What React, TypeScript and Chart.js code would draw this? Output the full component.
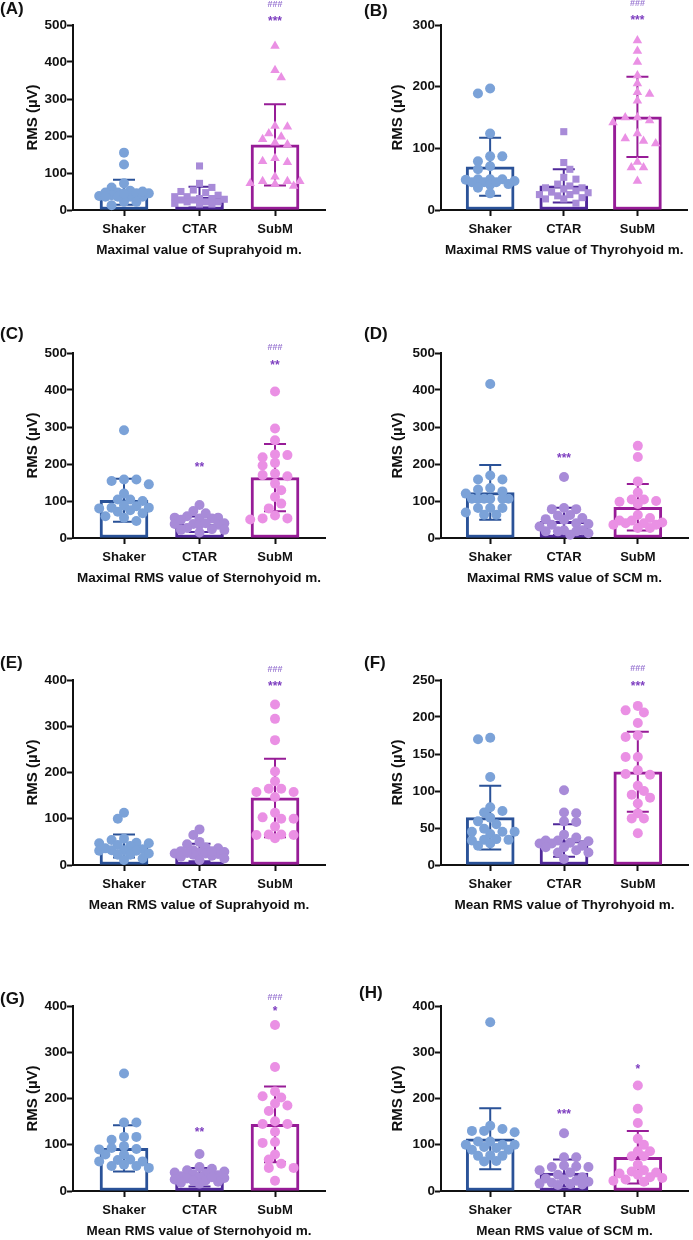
import React, { useEffect, useRef } from "react";
import Chart from "chart.js/auto";

const CATEGORIES = ["Shaker", "CTAR", "SubM"];
const BAR_COLORS = ["#2A5298", "#50299A", "#971C97"];
const POINT_COLORS = ["#7BA2D8", "#A88BD8", "#EA90E4"];
const NOTE_STAR = "#7E3FC0";
const NOTE_HASH = "#9A78D2";
const FONT = "'Liberation Sans', Arial, sans-serif";

// (A) Maximal value of Suprahyoid m.
const A_SHAKER = [155, 123, 72, 61, 47, 40, 36, 52, 38, 45, 47, 36, 22, 22, 13, 36, 45, 36, 45, 50];
const A_CTAR = [119, 72, 61, 54, 50, 40, 36, 47, 31, 27, 22, 22, 29, 27, 31, 22, 16, 16, 18, 36];
const A_SUBM = [443, 378, 358, 227, 225, 191, 207, 198, 182, 177, 129, 132, 140, 78, 78, 78, 70, 90, 72, 65];
const A_MEAN = [48, 35, 176];
const A_SD = [34, 28, 110];

// (B) Maximal RMS value of Thyrohyoid m.
const B_SHAKER = [189, 197, 124, 87, 87, 79, 66, 71, 50, 50, 47, 49, 45, 41, 42, 45, 45, 27, 50, 36];
const B_CTAR = [127, 77, 66, 53, 50, 42, 34, 36, 39, 36, 28, 18, 18, 20, 25, 11, 25, 31, 29, 23];
const B_SUBM = [275, 258, 240, 218, 205, 191, 188, 177, 150, 150, 142, 116, 124, 108, 112, 78, 69, 69, 47, 145];
const B_MEAN = [70, 39, 151];
const B_SD = [47, 27, 65];

// (C) Maximal RMS value of Sternohyoid m.
const C_SHAKER = [291, 154, 158, 158, 145, 120, 104, 104, 67, 88, 71, 75, 86, 82, 82, 80, 46, 55, 59, 100];
const C_CTAR = [89, 73, 53, 55, 59, 55, 53, 36, 38, 38, 40, 27, 24, 22, 36, 40, 15, 22, 49, 67];
const C_SUBM = [396, 296, 264, 218, 226, 224, 203, 196, 174, 167, 170, 147, 129, 111, 93, 80, 61, 50, 53, 53];
const C_MEAN = [102, 37, 163];
const C_SD = [58, 21, 91];

// (D) Maximal RMS value of SCM m.
const D_SHAKER = [416, 169, 158, 131, 158, 135, 106, 106, 106, 106, 106, 106, 120, 126, 81, 81, 81, 63, 63, 69];
const D_CTAR = [165, 78, 81, 78, 62, 60, 51, 49, 54, 36, 40, 38, 21, 18, 21, 18, 18, 9, 13, 31];
const D_SUBM = [249, 219, 153, 123, 104, 104, 100, 92, 98, 62, 54, 40, 40, 47, 47, 36, 36, 42, 27, 27];
const D_MEAN = [123, 45, 83];
const D_SD = [74, 37, 63];

// (E) Mean RMS value of Suprahyoid m.
const E_SHAKER = [113, 100, 47, 48, 47, 41, 54, 57, 43, 31, 34, 32, 32, 31, 25, 22, 22, 11, 14, 36];
const E_CTAR = [77, 65, 50, 45, 38, 36, 32, 30, 25, 27, 25, 24, 22, 28, 14, 11, 18, 20, 26, 30];
const E_SUBM = [347, 316, 270, 202, 181, 165, 165, 158, 158, 147, 103, 100, 100, 113, 83, 65, 66, 65, 66, 58];
const E_MEAN = [41, 27, 145];
const E_SD = [25, 19, 85];

// (F) Mean RMS value of Thyrohyoid m.
const F_SHAKER = [170, 172, 119, 78, 73, 71, 64, 59, 55, 45, 45, 42, 49, 45, 34, 33, 34, 35, 26, 29];
const F_CTAR = [101, 71, 59, 70, 58, 41, 33, 32, 29, 33, 37, 26, 29, 24, 24, 17, 20, 17, 8, 30];
const F_SUBM = [215, 209, 206, 192, 175, 173, 146, 146, 123, 128, 122, 107, 100, 91, 95, 83, 70, 63, 63, 43];
const F_MEAN = [64, 33, 126];
const F_SD = [43, 22, 54];

// (G) Mean RMS value of Sternohyoid m.
const G_SHAKER = [254, 148, 148, 111, 117, 117, 97, 91, 90, 93, 64, 68, 79, 79, 64, 67, 54, 57, 54, 50];
const G_CTAR = [80, 52, 48, 45, 42, 40, 38, 36, 34, 32, 30, 28, 27, 25, 23, 22, 20, 18, 16, 30];
const G_SUBM = [359, 268, 215, 205, 202, 189, 185, 173, 145, 145, 151, 128, 104, 106, 79, 68, 59, 50, 50, 22];
const G_MEAN = [92, 30, 144];
const G_SD = [50, 20, 82];

// (H) Mean RMS value of SCM m.
const H_SHAKER = [365, 141, 134, 127, 130, 130, 95, 100, 107, 107, 100, 100, 93, 89, 89, 76, 77, 76, 64, 65];
const H_CTAR = [125, 73, 73, 55, 53, 52, 52, 45, 40, 35, 30, 27, 25, 22, 20, 18, 16, 15, 14, 13];
const H_SUBM = [228, 178, 147, 113, 100, 86, 86, 75, 57, 45, 42, 40, 38, 35, 30, 28, 25, 22, 20, 75];
const H_MEAN = [113, 39, 73];
const H_SD = [66, 29, 57];

const SHAPES_ABC = ["circle", "rect", "triangle"];
const SHAPES_ROUND = ["circle", "circle", "circle"];

type Note = { group: number; text: string; value: number };

const PANELS = [
  { label: "(A)", title: "Maximal value of Suprahyoid m.", yMax: 500, yStep: 100, groups: [A_SHAKER, A_CTAR, A_SUBM], means: A_MEAN, sds: A_SD, shapes: SHAPES_ABC,
    notes: [{ group: 2, text: "###", value: 557 }, { group: 2, text: "***", value: 519 }] as Note[] },
  { label: "(B)", title: "Maximal RMS value of Thyrohyoid m.", yMax: 300, yStep: 100, groups: [B_SHAKER, B_CTAR, B_SUBM], means: B_MEAN, sds: B_SD, shapes: SHAPES_ABC,
    notes: [{ group: 2, text: "###", value: 336 }, { group: 2, text: "***", value: 312 }] as Note[] },
  { label: "(C)", title: "Maximal RMS value of Sternohyoid m.", yMax: 500, yStep: 100, groups: [C_SHAKER, C_CTAR, C_SUBM], means: C_MEAN, sds: C_SD, shapes: SHAPES_ROUND,
    notes: [{ group: 2, text: "###", value: 518 }, { group: 2, text: "**", value: 476 }, { group: 1, text: "**", value: 199 }] as Note[] },
  { label: "(D)", title: "Maximal RMS value of SCM m.", yMax: 500, yStep: 100, groups: [D_SHAKER, D_CTAR, D_SUBM], means: D_MEAN, sds: D_SD, shapes: SHAPES_ROUND,
    notes: [{ group: 1, text: "***", value: 225 }] as Note[] },
  { label: "(E)", title: "Mean RMS value of Suprahyoid m.", yMax: 400, yStep: 100, groups: [E_SHAKER, E_CTAR, E_SUBM], means: E_MEAN, sds: E_SD, shapes: SHAPES_ROUND,
    notes: [{ group: 2, text: "###", value: 425 }, { group: 2, text: "***", value: 394 }] as Note[] },
  { label: "(F)", title: "Mean RMS value of Thyrohyoid m.", yMax: 250, yStep: 50, groups: [F_SHAKER, F_CTAR, F_SUBM], means: F_MEAN, sds: F_SD, shapes: SHAPES_ROUND,
    notes: [{ group: 2, text: "###", value: 266 }, { group: 2, text: "***", value: 246 }] as Note[] },
  { label: "(G)", title: "Mean RMS value of Sternohyoid m.", yMax: 400, yStep: 100, groups: [G_SHAKER, G_CTAR, G_SUBM], means: G_MEAN, sds: G_SD, shapes: SHAPES_ROUND,
    notes: [{ group: 2, text: "###", value: 420 }, { group: 2, text: "*", value: 395 }, { group: 1, text: "**", value: 133 }] as Note[] },
  { label: "(H)", title: "Mean RMS value of SCM m.", yMax: 400, yStep: 100, groups: [H_SHAKER, H_CTAR, H_SUBM], means: H_MEAN, sds: H_SD, shapes: SHAPES_ROUND,
    notes: [{ group: 2, text: "*", value: 269 }, { group: 1, text: "***", value: 172 }] as Note[] },
];

// layout
const COLS = [
  { left: 0, width: 346, padL: 20, yW: 53, padR: 21, xMin: -0.6755, xMax: 2.662 },
  { left: 346, width: 347, padL: 39, yW: 56, padR: 1, xMin: -0.667, xMax: 2.68 },
];
const ROW_TOPS = [0, 328, 655, 981];
const PAD_TOP = 25;
const PLOT_H = 185;
const X_AXIS_H = 50;
const CANVAS_H = PAD_TOP + PLOT_H + X_AXIS_H;
const LABEL_POS = [
  [0, 0], [364, 2], [0, 325], [364, 325], [0, 654], [364, 654], [0, 990], [359, 984],
];

// beeswarm-style horizontal arrangement derived from values (pixel collision avoidance)
function swarm(vals: number[], yMax: number, pxPerUnit: number): number[] {
  const order = vals.map((_, i) => i).sort((a, b) => vals[b] - vals[a]);
  const placed: { x: number; y: number }[] = [];
  const out = new Array(vals.length).fill(0);
  const step = 6.2;
  const minD = 8;
  const ks = [0, 1, -1, 2, -2, 3, -3, 4, -4];
  order.forEach((i, n) => {
    const y = (vals[i] / yMax) * PLOT_H;
    let best = 0;
    let bestScore = -Infinity;
    const seq = n % 2 === 0 ? ks : ks.map((k) => -k);
    for (const k of seq) {
      const x = k * step;
      let dmin = Infinity;
      for (const p of placed) dmin = Math.min(dmin, Math.hypot(p.x - x, p.y - y));
      if (dmin >= minD) { best = x; break; }
      if (dmin > bestScore) { bestScore = dmin; best = x; }
    }
    placed.push({ x: best, y });
    out[i] = best / pxPerUnit;
  });
  return out;
}

function Panel({ idx }: { idx: number }) {
  const ref = useRef<HTMLCanvasElement>(null);
  const p = PANELS[idx];
  const col = COLS[idx % 2];
  const rowTop = ROW_TOPS[Math.floor(idx / 2)];

  useEffect(() => {
    if (!ref.current) return;
    const plotW = col.width - col.padL - col.yW - col.padR;
    const pxPerUnit = plotW / (col.xMax - col.xMin);

    const errPlugin = {
      id: "errbars",
      afterDatasetDraw(chart: any, args: any) {
        if (args.meta.type !== "bar") return;
        const { ctx } = chart;
        const xs = chart.scales.x;
        const ys = chart.scales.y;
        ctx.save();
        p.means.forEach((m, i) => {
          const s = p.sds[i];
          const cx = xs.getPixelForValue(i);
          const top = ys.getPixelForValue(m + s);
          const bot = ys.getPixelForValue(Math.max(0, m - s));
          ctx.strokeStyle = BAR_COLORS[i];
          ctx.lineWidth = 2;
          ctx.beginPath();
          ctx.moveTo(cx, top);
          ctx.lineTo(cx, bot);
          ctx.moveTo(cx - 11, top);
          ctx.lineTo(cx + 11, top);
          ctx.moveTo(cx - 11, bot);
          ctx.lineTo(cx + 11, bot);
          ctx.stroke();
        });
        ctx.restore();
      },
    };

    const notePlugin = {
      id: "notes",
      afterDraw(chart: any) {
        const { ctx } = chart;
        const xs = chart.scales.x;
        const ys = chart.scales.y;
        ctx.save();
        ctx.textAlign = "center";
        ctx.textBaseline = "alphabetic";
        p.notes.forEach((n) => {
          const isHash = n.text.startsWith("#");
          const fs = isHash ? 9 : 12;
          ctx.font = `bold ${fs}px ${FONT}`;
          ctx.fillStyle = isHash ? NOTE_HASH : NOTE_STAR;
          const cy = ys.getPixelForValue(n.value);
          ctx.fillText(n.text, xs.getPixelForValue(n.group), cy + (isHash ? 0.36 : 0.57) * fs);
        });
        ctx.restore();
      },
    };

    const scatterSets = p.groups.map((vals, g) => {
      const offs = swarm(vals, p.yMax, pxPerUnit);
      const shape = p.shapes[g];
      return {
        type: "scatter" as const,
        data: vals.map((v, i) => ({ x: g + offs[i], y: v })),
        pointStyle: shape,
        pointRadius: shape === "triangle" ? 5.5 : 5,
        pointHoverRadius: shape === "triangle" ? 5.5 : 5,
        backgroundColor: POINT_COLORS[g],
        borderColor: POINT_COLORS[g],
        borderWidth: 0,
        clip: false as any,
        order: 1,
      };
    });

    const chart = new Chart(ref.current, {
      type: "bar",
      data: {
        datasets: [
          {
            type: "bar" as const,
            data: p.means.map((m, i) => ({ x: i, y: m })) as any,
            backgroundColor: "#ffffff",
            borderColor: BAR_COLORS,
            borderWidth: 3,
            borderSkipped: false,
            barThickness: 48,
            order: 2,
          },
          ...(scatterSets as any[]),
        ],
      },
      options: {
        responsive: false,
        animation: false,
        devicePixelRatio: 1,
        layout: { padding: { left: col.padL, right: col.padR, top: PAD_TOP, bottom: 0 } },
        plugins: { legend: { display: false }, tooltip: { enabled: false } },
        scales: {
          x: {
            type: "linear",
            min: col.xMin,
            max: col.xMax,
            offset: false,
            afterBuildTicks: (s: any) => {
              s.ticks = CATEGORIES.map((_, i) => ({ value: i }));
            },
            afterFit: (s: any) => {
              s.height = X_AXIS_H;
            },
            ticks: {
              callback: (v: any) => CATEGORIES[Math.round(Number(v))] ?? "",
              font: { family: FONT, size: 13, weight: "bold" },
              color: "#111",
              padding: 6,
              maxRotation: 0,
              autoSkip: false,
            },
            grid: { display: true, offset: false, drawOnChartArea: false, drawTicks: true, tickLength: 6, tickWidth: 2, tickColor: "#111" },
            border: { display: true, color: "#111", width: 2 },
            title: {
              display: true,
              text: p.title,
              font: { family: FONT, size: 13.5, weight: "bold" },
              color: "#111",
              padding: { top: 4, bottom: 2 },
            },
          },
          y: {
            type: "linear",
            min: 0,
            max: p.yMax,
            afterFit: (s: any) => {
              s.width = col.yW;
            },
            ticks: {
              stepSize: p.yStep,
              font: { family: FONT, size: 13.5, weight: "bold" },
              color: "#111",
              padding: 0,
            },
            grid: { display: true, drawOnChartArea: false, drawTicks: true, tickLength: 6, tickWidth: 2, tickColor: "#111" },
            border: { display: true, color: "#111", width: 2 },
            title: {
              display: true,
              text: "RMS (µV)",
              font: { family: FONT, size: 15, weight: "bold" },
              color: "#111",
              padding: { top: 4, bottom: 4 },
            },
          },
        },
      } as any,
      plugins: [errPlugin, notePlugin],
    });
    return () => chart.destroy();
  }, [idx]);

  return (
    <>
      <canvas
        ref={ref}
        width={col.width}
        height={CANVAS_H}
        style={{ position: "absolute", left: col.left, top: rowTop, width: col.width, height: CANVAS_H }}
      />
      <div
        style={{
          position: "absolute",
          left: LABEL_POS[idx][0],
          top: LABEL_POS[idx][1],
          fontFamily: FONT,
          fontWeight: "bold",
          fontSize: 17,
          lineHeight: "17px",
          color: "#111",
        }}
      >
        {p.label}
      </div>
    </>
  );
}

export default function App() {
  return (
    <div
      style={{
        position: "absolute",
        left: 0,
        top: 0,
        width: 693,
        height: 1240,
        overflow: "hidden",
        background: "#ffffff",
      }}
    >
      {PANELS.map((_, i) => (
        <Panel key={i} idx={i} />
      ))}
    </div>
  );
}
